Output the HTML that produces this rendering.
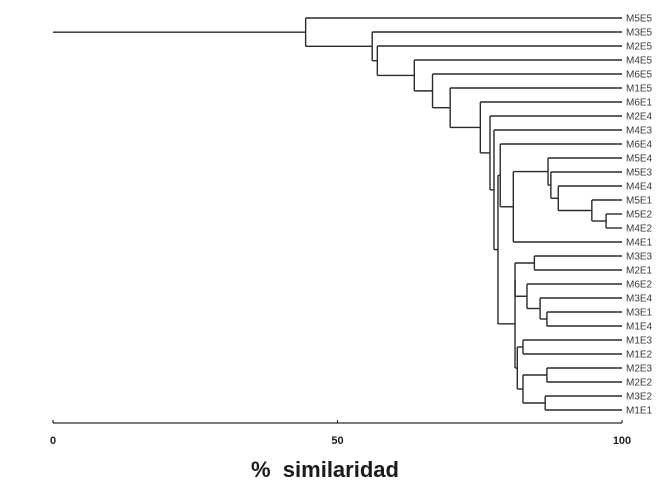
<!DOCTYPE html>
<html><head><meta charset="utf-8">
<style>
html,body{margin:0;padding:0;background:#fff;}
svg{display:block;}
text{font-family:"Liberation Sans",sans-serif;}
</style></head>
<body>
<svg id="chart" width="662" height="496" viewBox="0 0 662 496" xmlns="http://www.w3.org/2000/svg">
  <g id="tree"></g>
  <g id="labels"></g>
  <g id="axis"></g>
  <text x="325" y="477" text-anchor="middle" font-size="22" font-weight="bold" fill="#1a1a1a" xml:space="preserve">%  similaridad</text>
</svg>
<script>
const leaves = ["M5E5","M3E5","M2E5","M4E5","M6E5","M1E5","M6E1","M2E4","M4E3","M6E4","M5E4","M5E3","M4E4","M5E1","M5E2","M4E2","M4E1","M3E3","M2E1","M6E2","M3E4","M3E1","M1E4","M1E3","M1E2","M2E3","M2E2","M3E2","M1E1"];
// merges: [left, right, similarity %]; left/right are leaf names or "n<index>" of earlier merge
const mergeLeft  = ["M5E2","M5E1","M4E4","M5E3","M5E4","n4", "M3E3","M3E1","M3E4","M6E2","n6", "M1E3","M2E3","M3E2","n12","n11","n10","M6E4","n17","M4E3","M2E4","M6E1","M1E5","M6E5","M4E5","M2E5","M3E5","M5E5"];
const mergeRight = ["M4E2","n0", "n1", "n2", "n3", "M4E1","M2E1","M1E4","n7", "n8", "n9", "M1E2","M2E2","M1E1","n13","n14","n15","n5", "n16","n18","n19","n20","n21","n22","n23","n24","n25","n26"];
const mergeSim   = [97.2, 94.7, 88.8, 87.5, 87.0, 80.9, 84.6, 86.8, 85.6, 83.3, 81.2, 82.6, 86.8, 86.5, 82.6, 81.6, 81.2, 78.6, 78.2, 77.5, 76.8, 75.1, 69.8, 66.7, 63.5, 57.0, 56.1, 44.4];
const tickValues = [0, 50, 100];
const tickLabels = ["0", "50", "100"];

const NS = "http://www.w3.org/2000/svg";
const x0 = 53, x1 = 622, yTop = 18, yBot = 410, axisY = 423;
const xScale = v => x0 + (x1 - x0) * v / 100;
const yScale = i => yTop + (yBot - yTop) * i / (leaves.length - 1);

const tree = document.getElementById('tree');
const labels = document.getElementById('labels');
const axis = document.getElementById('axis');

function line(parent, xa, ya, xb, yb, name, w) {
  const l = document.createElementNS(NS, 'line');
  l.setAttribute('x1', xa); l.setAttribute('y1', ya);
  l.setAttribute('x2', xb); l.setAttribute('y2', yb);
  l.setAttribute('stroke', '#2a2a2a');
  l.setAttribute('stroke-width', w || 1.4);
  
  
  parent.appendChild(l);
}

const nodes = {};
leaves.forEach((name, i) => { nodes[name] = { y: yScale(i), x: xScale(100), leaf: true }; });

leaves.forEach((name, i) => {
  const t = document.createElementNS(NS, 'text');
  t.setAttribute('x', 626); t.setAttribute('y', yScale(i) + 3.5);
  t.setAttribute('font-size', '10'); t.setAttribute('fill', '#3a3a3a');
  t.textContent = name;
  
  
  labels.appendChild(t);
});

mergeSim.forEach((s, k) => {
  const a = nodes[mergeLeft[k]], b = nodes[mergeRight[k]];
  const x = xScale(s);
  line(tree, x, a.y, a.x, a.y, 'branch-' + mergeLeft[k].toLowerCase());
  line(tree, x, b.y, b.x, b.y, 'branch-' + mergeRight[k].toLowerCase());
  line(tree, x, a.y, x, b.y, 'merge-' + k);
  nodes['n' + k] = { x: x, y: (a.y + b.y) / 2 };
});
const root = nodes['n' + (mergeSim.length - 1)];
line(tree, xScale(0), root.y, root.x, root.y, 'root-branch');

line(axis, x0, axisY, x1, axisY, 'x-axis-line', 1.2);
tickValues.forEach((v, i) => {
  line(axis, xScale(v), axisY, xScale(v), axisY - 3, 'x-tick-' + v, 1.2);
  const t = document.createElementNS(NS, 'text');
  t.setAttribute('x', xScale(v)); t.setAttribute('y', 444);
  t.setAttribute('text-anchor', 'middle');
  t.setAttribute('font-size', '11'); t.setAttribute('font-weight', 'bold'); t.setAttribute('fill', '#222');
  t.textContent = tickLabels[i];
  
  
  axis.appendChild(t);
});
</script>
</body></html>
